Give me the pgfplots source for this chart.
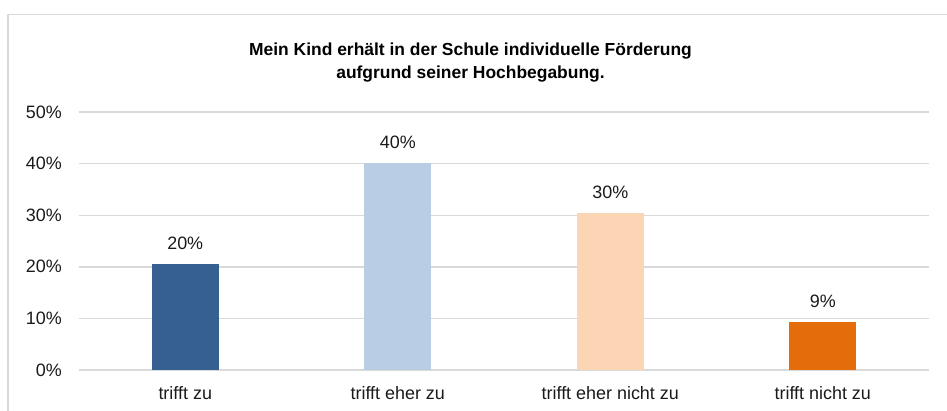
\documentclass[border=0pt]{standalone}
\usepackage{pgfplots}
\pgfplotsset{compat=1.18}
\usepackage{fontspec}
\setmainfont{Liberation Sans}
\definecolor{cA}{HTML}{376092}
\definecolor{cB}{HTML}{B9CDE5}
\definecolor{cC}{HTML}{FCD5B5}
\definecolor{cD}{HTML}{E46C0A}
\definecolor{gridgray}{HTML}{D9D9D9}
\definecolor{txt}{HTML}{1A1A1A}
\begin{document}
\begin{tikzpicture}[x=1bp,y=1bp]
\useasboundingbox (-79,-40) rectangle (868,370);
\draw[color=gridgray, line width=1.4bp] (-71,-42) -- (-71,355.3) -- (870,355.3);
\node[anchor=base, font=\fontsize{17.5}{20}\selectfont\bfseries, text=black] at (391.5,315) {Mein Kind erhält in der Schule individuelle Förderung};
\node[anchor=base, font=\fontsize{17.5}{20}\selectfont\bfseries, text=black] at (391.5,292) {aufgrund seiner Hochbegabung.};
\begin{axis}[
  at={(0,0)}, anchor=south west,
  scale only axis, width=850bp, height=258bp,
  xmin=-0.5, xmax=3.5, ymin=0, ymax=50,
  ytick={0,10,20,30,40,50},
  yticklabels={0\%,10\%,20\%,30\%,40\%,50\%},
  xtick={0,1,2,3},
  xticklabels={trifft zu,trifft eher zu,trifft eher nicht zu,trifft nicht zu},
  /pgf/number format/assume math mode=true,
  major tick length=0pt,
  axis line style={draw=none},
  ymajorgrids, grid style={color=gridgray, line width=1.4bp},
  ticklabel style={font=\fontsize{18}{21}\selectfont, text=txt},
  yticklabel style={anchor=east, inner sep=0pt, xshift=-17bp},
  xticklabel style={anchor=north, inner sep=0pt, yshift=-16bp},
  ybar, bar width=67bp,
  nodes near coords, point meta=explicit symbolic,
  every node near coord/.append style={font=\fontsize{18}{21}\selectfont, text=txt, inner sep=0pt, anchor=south, yshift=14bp},
  clip=false,
]
\addplot[fill=cA, draw=none, bar shift=0pt] coordinates {(0,20.5) [20\%]};
\addplot[fill=cB, draw=none, bar shift=0pt] coordinates {(1,40.2) [40\%]};
\addplot[fill=cC, draw=none, bar shift=0pt] coordinates {(2,30.4) [30\%]};
\addplot[fill=cD, draw=none, bar shift=0pt] coordinates {(3,9.3) [9\%]};
\end{axis}
\end{tikzpicture}
\end{document}
